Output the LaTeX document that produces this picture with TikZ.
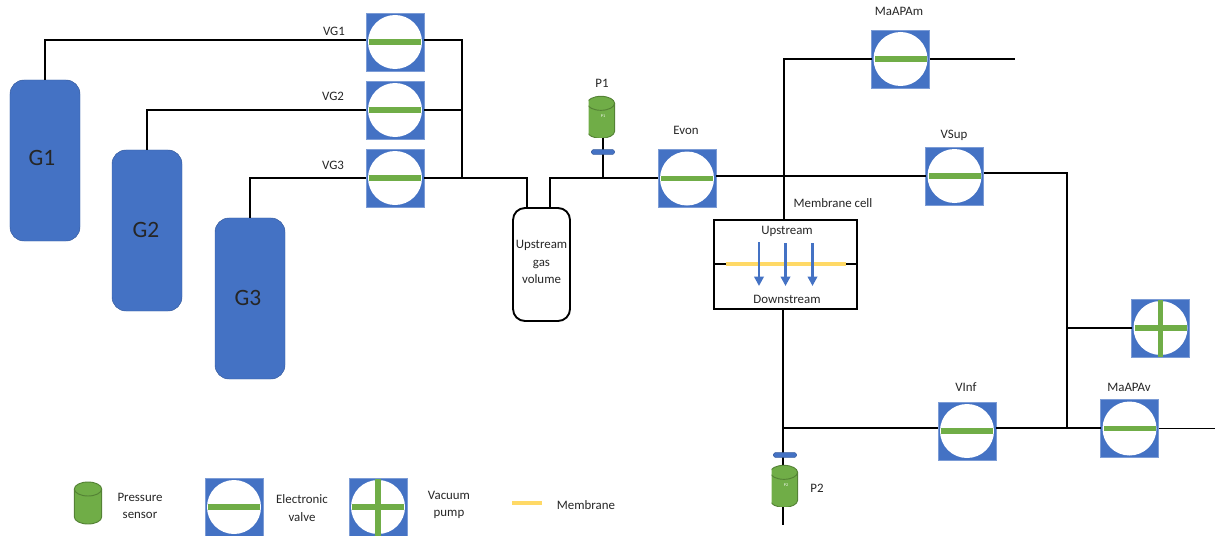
\documentclass[tikz,border=0pt]{standalone}
\usepackage{fontspec}
\setmainfont{Carlito}
\usepackage{tikz}
\usetikzlibrary{arrows.meta}
\definecolor{valveblue}{RGB}{68,114,196}
\definecolor{sensorgreen}{RGB}{112,173,71}
\definecolor{sensoredge}{RGB}{84,130,53}
\definecolor{membraneyellow}{RGB}{255,217,102}
\tikzset{
	lbl/.style={font=\fontsize{11}{15}\selectfont,align=center,inner sep=0pt,text=black!85},
	gas/.style={draw=valveblue!80!black,fill=valveblue,rounded corners=0.42cm,minimum width=2.1cm,minimum height=4.83cm,inner sep=0pt},
	gaslbl/.style={font=\fontsize{20}{24}\selectfont,inner sep=0pt,text=black!85},
	valve/.style={fill=valveblue,draw=valveblue!70,minimum size=1.74cm,inner sep=0pt,outer sep=0pt,path picture={
		\fill[white] (path picture bounding box.center) circle (0.81cm);
		\fill[sensorgreen] ([xshift=-0.78cm,yshift=-0.08cm]path picture bounding box.center) rectangle ([xshift=0.78cm,yshift=0.08cm]path picture bounding box.center);
	}},
	pump/.style={valve,path picture={
		\fill[white] (path picture bounding box.center) circle (0.81cm);
		\fill[sensorgreen] ([xshift=-0.78cm,yshift=-0.08cm]path picture bounding box.center) rectangle ([xshift=0.78cm,yshift=0.08cm]path picture bounding box.center);
		\fill[sensorgreen] ([xshift=-0.08cm,yshift=-0.87cm]path picture bounding box.center) rectangle ([xshift=0.08cm,yshift=0.87cm]path picture bounding box.center);
	}},
	sensor/.style={minimum width=0.86cm,minimum height=1.3cm,inner sep=0pt,outer sep=0pt,text=white,font=\fontsize{3.5}{4}\selectfont,path picture={
		\begin{scope}[x=1cm,y=1cm,shift={(path picture bounding box.center)}]
			\draw[sensoredge,fill=sensorgreen,line width=0.8pt] (-0.41,0.42) -- (-0.41,-0.42) arc (180:360:0.41 and 0.21) -- (0.41,0.42) arc (0:180:0.41 and 0.21) -- cycle;
			\draw[sensoredge,line width=0.8pt] (-0.41,0.42) arc (180:360:0.41 and 0.21);
		\end{scope}
	}},
	disk/.style={fill=valveblue,draw=valveblue!80!black,rounded corners=0.05cm,minimum width=0.7cm,minimum height=0.14cm,inner sep=0pt},
	pipe/.style={draw=black,line width=1.6pt},
	flow/.style={valveblue,line width=2pt,-{Triangle[width=8pt,length=8pt]}},
}
\begin{document}
\begin{tikzpicture}[x=0.03cm,y=-0.03cm]
	\useasboundingbox (0,0) rectangle (1215,535);
	\node[gas] (G1) at (45,160.5) {};
	\node[gas] (G2) at (147,230.5) {};
	\node[gas] (G3) at (250,298.5) {};
	\node[gaslbl] (LG1) at (42,158) {G1};
	\node[gaslbl] (LG2) at (146,230) {G2};
	\node[gaslbl] (LG3) at (248,298) {G3};
	\node[valve] (VG1) at (395,42) {};
	\node[valve] (VG2) at (395,110) {};
	\node[valve] (VG3) at (395,178) {};
	\node[valve] (Evon) at (687,178.5) {};
	\node[valve] (VSup) at (954.5,176) {};
	\node[valve] (MaAPAm) at (900.5,59) {};
	\node[valve] (VInf) at (967,431) {};
	\node[valve] (MaAPAv) at (1129.5,428.5) {};
	\node[pump] (Vac) at (1160.5,328) {};
	\node[draw=black,line width=1.6pt,rounded corners=0.36cm,minimum width=1.71cm,minimum height=3.39cm,inner sep=0pt] (Vol) at (541.5,264.5) {};
	\node[lbl] (LVol) at (541.5,262) {Upstream\\gas\\volume};
	\node[draw=black,line width=1.1pt,minimum width=4.29cm,minimum height=2.67cm,inner sep=0pt,outer sep=0pt] (Cell) at (785.5,264.5) {};
	\coordinate (J1) at (462,40);
	\coordinate (J2) at (462,110);
	\coordinate (J3) at (462,178);
	\coordinate (J4) at (527,178);
	\coordinate (J5) at (550,178);
	\coordinate (J6) at (784,59);
	\coordinate (J7) at (1067,173);
	\coordinate (J8) at (1067,328);
	\coordinate (J9) at (1067,428);
	\coordinate (J10) at (783,428);
	\coordinate (EndA) at (1015,59);
	\coordinate (EndB) at (1215,428.5);
	\coordinate (EndC) at (783,525);
	\coordinate (LegA) at (726,264);
	\coordinate (LegB) at (846,264);
	\draw[pipe] (G1.north) |- (VG1.west |- J1);
	\draw[pipe] (G2.north) |- (VG2.west);
	\draw[pipe] (G3.north) |- (VG3.west);
	\draw[pipe] (VG1.east |- J1) -- (J1) -- (J3);
	\draw[pipe] (VG2.east) -- (J2);
	\draw[pipe] (VG3.east) -- (J4) -- (J4 |- Vol.north);
	\draw[pipe] (J5 |- Vol.north) -- (J5) -- (Evon.west |- J5);
	\draw[pipe] (Evon.east |- VSup.east) -- (VSup.west);
	\draw[pipe] (VSup.east |- J7) -- (J7) -- (J9);
	\draw[pipe] (J8) -- (Vac.west);
	\draw[pipe] (J10) -- (VInf.west |- J10);
	\draw[pipe] (VInf.east |- J10) -- (MaAPAv.west |- J10);
	\draw[pipe] (MaAPAv.east) -- (EndB);
	\draw[pipe] (J6 |- Cell.north) -- (J6) -- (MaAPAm.west);
	\draw[pipe] (MaAPAm.east) -- (EndA);
	\draw[pipe] (J10 |- Cell.south) -- (EndC);
	\draw[pipe] (Cell.west |- LegA) -- (Cell.east |- LegA);
	\draw[membraneyellow,line width=4.2pt] (LegA) -- (LegB);
	\node[sensor] (P1) at (603,116) {P1};
	\draw[pipe] (P1.south) -- (P1.south |- J5);
	\node[disk] (DiskA) at (603,152) {};
	\node[sensor] (P2) at (786,485) {P2};
	\node[disk] (DiskB) at (785,455) {};
	\node[lbl] (LVG1) at (334,31) {VG1};
	\node[lbl] (LVG2) at (333,96) {VG2};
	\node[lbl] (LVG3) at (333,165) {VG3};
	\node[lbl] (LP1) at (602,83) {P1};
	\node[lbl] (LEvon) at (686,130) {Evon};
	\node[lbl] (LVSup) at (954,135) {VSup};
	\node[lbl] (LMaAPAm) at (899,11) {MaAPAm};
	\node[lbl] (LCell) at (833,203) {Membrane cell};
	\node[lbl] (LUp) at (787,231) {Upstream};
	\node[lbl] (LDown) at (787,299) {Downstream};
	\node[lbl] (LVInf) at (966,387) {VInf};
	\node[lbl] (LMaAPAv) at (1129,387) {MaAPAv};
	\node[lbl] (LP2) at (817,488) {P2};
	\draw[flow] (759,242) -- (759,286);
	\draw[flow] (785.5,243) -- (785.5,286);
	\draw[flow] (812.5,243) -- (812.5,286);
	\node[sensor] (LegS) at (88,503) {};
	\node[valve] (LegV) at (234,507) {};
	\node[pump] (LegP) at (378,507) {};
	\node[lbl] (TxtS) at (140,506) {Pressure\\sensor};
	\node[lbl] (TxtV) at (302,508) {Electronic\\valve};
	\node[lbl] (TxtP) at (449,505) {Vacuum\\pump};
	\coordinate (BarA) at (512,503);
	\coordinate (BarB) at (542,503);
	\draw[membraneyellow,line width=4.2pt] (BarA) -- (BarB);
	\node[lbl] (TxtM) at (586,505) {Membrane};
\end{tikzpicture}
\end{document}
